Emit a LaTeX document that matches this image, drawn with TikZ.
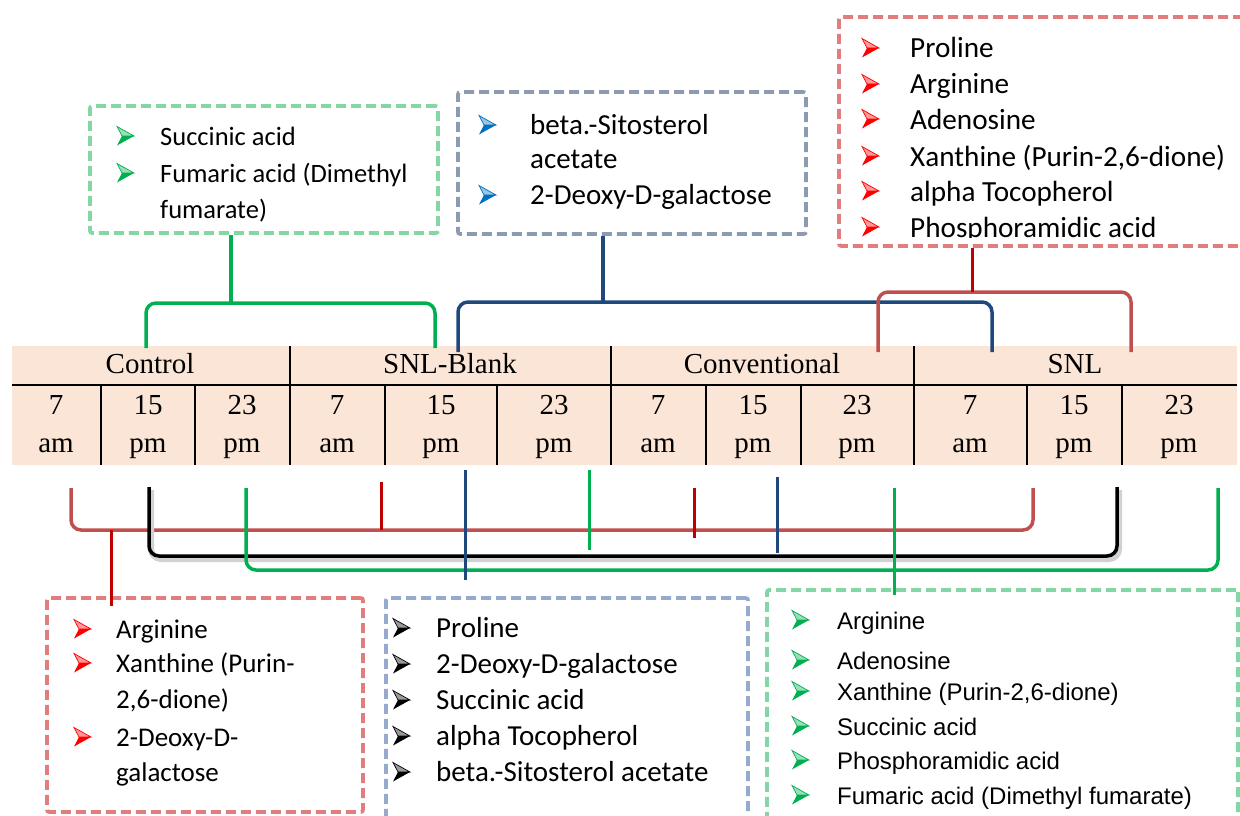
\documentclass[tikz,border=0pt]{standalone}
\usepackage{fontspec}
\setmainfont{Liberation Serif}
\newfontfamily\calfont{Carlito}
\newfontfamily\arifont{Liberation Sans}
\definecolor{cgreen}{RGB}{0,176,80}
\definecolor{cblue}{RGB}{31,73,125}
\definecolor{cred}{RGB}{192,80,77}
\definecolor{cdred}{RGB}{192,0,0}
\definecolor{dgreen}{RGB}{130,215,165}
\definecolor{dgray}{RGB}{140,155,175}
\definecolor{dred}{RGB}{225,125,125}
\definecolor{dblue}{RGB}{150,170,205}
\definecolor{peach}{RGB}{251,229,214}
\definecolor{bred}{RGB}{255,0,0}
\definecolor{bgreen}{RGB}{0,176,80}
\definecolor{bblue}{RGB}{0,112,192}
\definecolor{bblack}{RGB}{0,0,0}
\tikzset{
  dbox/.style={draw=#1, line width=3.6, dash pattern=on 10 off 5, rounded corners=2, inner sep=0pt, fill=none},
  conn/.style={draw=#1, line width=3.5, rounded corners=10},
  tick/.style={draw=#1, line width=3},
  cell/.style={font=\fontsize{29}{34}\selectfont, inner sep=0pt, anchor=base},
  hdr/.style={font=\fontsize{29}{34}\selectfont, inner sep=0pt, anchor=base},
  tl/.style={anchor=base west, inner sep=0pt},
  pics/bul/.style={code={
    \fill[#1!40, draw=#1, line width=0.7] (9,0) -- (-8,-9.5) -- (-3,0) -- cycle;
    \fill[#1] (9,0) -- (-3,0) -- (-8,9.5) -- cycle;
  }}
}
\begin{document}
\begin{tikzpicture}[x=1pt,y=-1pt]
\useasboundingbox (0,0) rectangle (1240,816);

% ---------- table ----------
\node[fill=peach, minimum width=1225, minimum height=119, inner sep=0pt, anchor=north west] (tbl) at (12,346) {};
\draw[line width=2] (12,385) -- (1237,385);
\foreach \x in {290,611,914} \draw[line width=2] (\x,346) -- (\x,465);
\foreach \x in {101,195,385,497,706,801,1027,1122} \draw[line width=2] (\x,385) -- (\x,465);
\node[hdr] (hA) at (150,373) {Control};
\node[hdr] (hB) at (450,373) {SNL-Blank};
\node[hdr] (hC) at (762,373) {Conventional};
\node[hdr] (hD) at (1075,373) {SNL};
\foreach \x/\n/\t/\s in {56/c1/7/am,148/c2/15/pm,242/c3/23/pm,337/c4/7/am,441/c5/15/pm,554/c6/23/pm,658/c7/7/am,753/c8/15/pm,857/c9/23/pm,970/c10/7/am,1074/c11/15/pm,1179/c12/23/pm}
  {\node[cell] (\n) at (\x,414) {\t};
   \node[cell] (\n s) at (\x,452) {\s};}

% ---------- top boxes ----------
\node[dbox=dgreen, minimum width=348, minimum height=127] (box1) at (264,169.5) {};
\pic at (125,136) {bul=bgreen};
\pic at (125,173) {bul=bgreen};
\begin{scope}[font=\calfont\fontsize{26.5}{30}\selectfont]
\node[tl] (t1a) at (160,145) {Succinic acid};
\node[tl] (t1b) at (160,182) {Fumaric acid (Dimethyl};
\node[tl] (t1c) at (160,218) {fumarate)};
\end{scope}

\node[dbox=dgray, minimum width=348, minimum height=142] (box2) at (632,163) {};
\pic at (487,125) {bul=bblue};
\pic at (487,195) {bul=bblue};
\begin{scope}[font=\calfont\fontsize{29}{32}\selectfont]
\node[tl] (t2a) at (530,134) {beta.-Sitosterol};
\node[tl] (t2b) at (530,168) {acetate};
\node[tl] (t2c) at (530,204) {2-Deoxy-D-galactose};
\end{scope}

\node[dbox=dred, minimum width=421, minimum height=229] (box3) at (1049.5,131.5) {};
\begin{scope}
\clip (845,20) rectangle (1240,237);
\foreach \y in {48,84,119,156,191,227} \pic at (870,\y) {bul=bred};
\begin{scope}[font=\calfont\fontsize{29.2}{34}\selectfont]
\node[tl] (t3a) at (910,58) {Proline};
\node[tl] (t3b) at (910,94) {Arginine};
\node[tl] (t3c) at (910,129) {Adenosine};
\node[tl] (t3d) at (910,166) {Xanthine (Purin-2,6-dione)};
\node[tl] (t3e) at (910,201) {alpha Tocopherol};
\node[tl] (t3f) at (910,237) {Phosphoramidic acid};
\end{scope}
\end{scope}

% ---------- top connectors ----------
\coordinate (gJ) at (231,303);
\coordinate (gL) at (146,348);
\coordinate (gR) at (435,348);
\draw[conn=cgreen, rounded corners=0] (box1.south -| gJ) -- (gJ);
\draw[conn=cgreen] (gL) |- (gJ) -| (gR);

\coordinate (bJ) at (603,302);
\coordinate (bL) at (458,352);
\coordinate (bR) at (992,352);
\draw[conn=cblue, rounded corners=0] (box2.south -| bJ) -- (bJ);
\draw[conn=cblue] (bL) |- (bJ) -| (bR);

\coordinate (rJ) at (972,292);
\coordinate (rL) at (878,352);
\coordinate (rR) at (1131,352);
\draw[conn=cred] (rL) |- (rJ) -| (rR);
\draw[conn=cdred, line width=3, rounded corners=0] (box3.south -| rJ) -- (rJ);

% ---------- bottom brackets ----------
\coordinate (rbL) at (71,488);
\coordinate (rbR) at (1033,488);
\coordinate (rbJ) at (111,530);
\draw[conn=cred] (rbL) |- (rbJ) -| (rbR);

\coordinate (kbL) at (149,487);
\coordinate (kbR) at (1117,487);
\coordinate (kbJ) at (600,556);
\draw[line width=6, draw=black!18, rounded corners=10, transform canvas={xshift=2pt,yshift=-3pt}] (kbL) |- (kbJ) -| (kbR);
\draw[conn=black] (kbL) |- (kbJ) -| (kbR);

\coordinate (gbL) at (246,488);
\coordinate (gbR) at (1218,488);
\coordinate (gbJ) at (700,570);
\draw[conn=cgreen] (gbL) |- (gbJ) -| (gbR);

% ---------- bottom boxes ----------
\node[dbox=dred, minimum width=316, minimum height=214] (boxA) at (205,705) {};
\pic at (82,629) {bul=bred};
\pic at (82,663) {bul=bred};
\pic at (82,737) {bul=bred};
\begin{scope}[font=\calfont\fontsize{27}{31}\selectfont]
\node[tl] (tAa) at (116,638) {Arginine};
\node[tl] (tAb) at (116,672) {Xanthine (Purin-};
\node[tl] (tAc) at (116,708) {2,6-dione)};
\node[tl] (tAd) at (116,746) {2-Deoxy-D-};
\node[tl] (tAe) at (116,781) {galactose};
\end{scope}

\node[dbox=dblue, minimum width=362, minimum height=242] (boxB) at (567,719) {};
\foreach \y in {628,664,700,736,772} \pic at (401,\y) {bul=bblack};
\begin{scope}[font=\calfont\fontsize{29}{32}\selectfont]
\node[tl] (tBa) at (436,637) {Proline};
\node[tl] (tBb) at (436,673) {2-Deoxy-D-galactose};
\node[tl] (tBc) at (436,709) {Succinic acid};
\node[tl] (tBd) at (436,745) {alpha Tocopherol};
\node[tl] (tBe) at (436,781) {beta.-Sitosterol acetate};
\end{scope}

\node[dbox=dgreen, minimum width=471, minimum height=250] (boxC) at (1002.5,715) {};
\foreach \y in {620,660,691,726,760,795} \pic at (800,\y) {bul=bgreen};
\begin{scope}[font=\arifont\fontsize{24}{28}\selectfont]
\node[tl] (tCa) at (837,629) {Arginine};
\node[tl] (tCb) at (837,669) {Adenosine};
\node[tl] (tCc) at (837,700) {Xanthine (Purin-2,6-dione)};
\node[tl] (tCd) at (837,735) {Succinic acid};
\node[tl] (tCe) at (837,769) {Phosphoramidic acid};
\node[tl] (tCf) at (837,804) {Fumaric acid (Dimethyl fumarate)};
\end{scope}

% ---------- ticks ----------
\coordinate (rt1) at (381,482);
\draw[tick=cdred] (rt1) -- (rt1 |- rbJ);
\coordinate (rt2) at (694,488);
\draw[tick=cdred] (rt2) -- (694,538);
\draw[tick=cdred] (rbJ) -- ([yshift=-10pt]boxA.north -| rbJ);
\coordinate (bt1) at (465,470);
\draw[tick=cblue] (bt1) -- (465,580);
\coordinate (bt2) at (777,477);
\draw[tick=cblue] (bt2) -- (777,553);
\coordinate (gt1) at (589,470);
\draw[tick=cgreen] (gt1) -- (589,550);
\coordinate (gt2) at (894,488);
\draw[tick=cgreen] (gt2) -- ([yshift=-7pt]boxC.north -| gt2);
\end{tikzpicture}
\end{document}
